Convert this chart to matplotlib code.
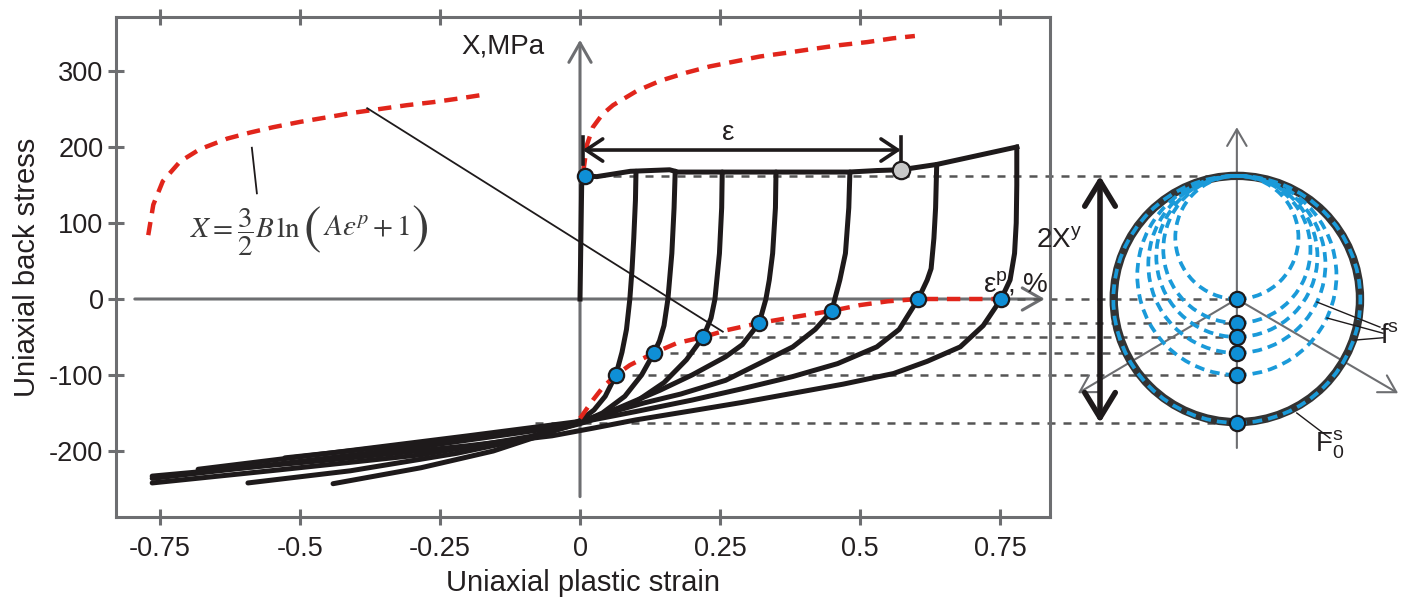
import matplotlib.pyplot as plt
from matplotlib.patches import Ellipse

plt.rcParams['font.family'] = ['Liberation Sans', 'DejaVu Sans']
plt.rcParams['mathtext.fontset'] = 'custom'
plt.rcParams['mathtext.rm'] = 'Liberation Sans'
plt.rcParams['mathtext.it'] = 'Liberation Sans:italic'

# axis ticks
xticks = [-0.75, -0.5, -0.25, 0, 0.25, 0.5, 0.75]
xticklabels = ['-0.75', '-0.5', '-0.25', '0', '0.25', '0.5', '0.75']
yticks = [-200, -100, 0, 100, 200, 300]
yticklabels = ['-200', '-100', '0', '100', '200', '300']

# loading path (upper envelope) - plastic strain %, back stress MPa
env_x = [0.0, 0.003, 0.009, 0.03, 0.09, 0.16, 0.175, 0.26, 0.38, 0.48, 0.53, 0.573, 0.637, 0.78]
env_y = [0, 150, 162, 161, 168, 170, 167, 167, 167, 167, 169, 170, 177, 200]

# unloading branches (top of branch -> dot -> tail)
b1_x = [0.100, 0.099, 0.096, 0.093, 0.089, 0.083, 0.075, 0.064, 0.045, 0.025, 0.0, -0.06, -0.155, -0.284, -0.441]
b1_y = [168, 130, 80, 40, 0, -40, -70, -100, -128, -146, -160, -177, -200, -222, -243]
b2_x = [0.170, 0.168, 0.164, 0.157, 0.150, 0.142, 0.132, 0.11, 0.08, 0.04, 0.0, -0.09, -0.22, -0.41, -0.593]
b2_y = [168, 120, 60, 0, -35, -55, -71, -100, -128, -150, -163, -183, -203, -226, -242]
b3_x = [0.254, 0.253, 0.249, 0.241, 0.234, 0.22, 0.19, 0.15, 0.10, 0.05, 0.0, -0.09, -0.284, -0.54, -0.764]
b3_y = [167, 120, 60, 0, -25, -50, -80, -110, -135, -152, -164, -181, -205, -225, -242]
b4_x = [0.350, 0.349, 0.344, 0.338, 0.332, 0.32, 0.29, 0.26, 0.20, 0.143, 0.07, 0.0, -0.2, -0.4, -0.527]
b4_y = [167, 120, 60, 25, 0, -31.6, -60, -76, -100, -120, -143, -163, -183, -199, -209]
b5_x = [0.482, 0.48, 0.474, 0.464, 0.455, 0.45, 0.42, 0.38, 0.32, 0.26, 0.18, 0.113, 0.05, 0.0, -0.2, -0.45, -0.682]
b5_y = [167, 120, 60, 25, 0, -15.5, -40, -63, -85, -107, -125, -137, -150, -161, -180, -203, -224]
b6_x = [0.637, 0.635, 0.632, 0.627, 0.620, 0.604, 0.57, 0.53, 0.46, 0.38, 0.29, 0.2, 0.1, 0.023, -0.05, -0.3, -0.55, -0.764]
b6_y = [177, 120, 80, 40, 25, 0, -40, -63, -85, -102, -118, -133, -148, -159, -170, -196, -218, -236]
b7_x = [0.780, 0.780, 0.779, 0.776, 0.768, 0.752, 0.72, 0.679, 0.62, 0.56, 0.47, 0.38, 0.29, 0.2, 0.1, 0.023, -0.05, -0.2, -0.45, -0.764]
b7_y = [200, 150, 100, 60, 25, 0, -35, -63, -82, -98, -112, -124, -136, -147, -159, -170, -180, -193, -212, -233]
branches = [(b1_x, b1_y), (b2_x, b2_y), (b3_x, b3_y), (b4_x, b4_y), (b5_x, b5_y), (b6_x, b6_y), (b7_x, b7_y)]

# red dashed curves (back stress law)
rr_x = [0.006, 0.0125, 0.023, 0.04, 0.059, 0.102, 0.143, 0.191, 0.232, 0.28, 0.321, 0.37, 0.416, 0.464, 0.513, 0.559, 0.598]
rr_y = [168, 203, 226, 243, 255, 274, 287, 298, 306, 313, 319, 324, 329, 334, 338, 343, 346]
rl_x = [-0.771, -0.762, -0.745, -0.714, -0.679, -0.63, -0.589, -0.548, -0.5, -0.452, -0.405, -0.357, -0.309, -0.262, -0.214, -0.179]
rl_y = [84, 124, 155, 181, 197, 211, 219, 226, 233, 239, 245, 250, 255, 259, 264, 268]
rb_x = [0.0, 0.023, 0.041, 0.064, 0.089, 0.132, 0.173, 0.22, 0.262, 0.32, 0.38, 0.45, 0.5, 0.55, 0.604, 0.68, 0.752]
rb_y = [-157, -133, -116, -100, -87, -71, -58, -50, -41, -31.6, -24, -15.5, -8, -3, 0, 0, 0]

# points
dot_x = [0.064, 0.132, 0.22, 0.32, 0.45, 0.604, 0.752]
dot_y = [-100, -71, -50, -31.6, -15.5, 0, 0]
yield_pt = (0.009, 162)
end_pt = (0.573, 170)

# yield surface levels (bottom of each surface) and dashed guide start
Xy = 162
surf_levels = [0, -31.6, -50, -71, -100, -163]
guide_levels = [162, 0, -31.6, -50, -71, -100, -163]
guide_start = [0.03, 0.752, 0.32, 0.22, 0.132, 0.064, -0.08]
circ_x = 1.173

GRAY = '#6d6e71'
BLACK = '#1e1a1b'
RED = '#e1251b'
BLUE = '#0f8fd6'
TXT = '#231f20'

fig = plt.figure(figsize=(14.02, 5.97), dpi=100)
ax = fig.add_axes([116 / 1402, 80 / 597, 934 / 1402, 500 / 597])
ax.set_xlim(-0.8286, 0.8393)
ax.set_ylim(-286.8, 371)

for s in ax.spines.values():
    s.set_color(GRAY)
    s.set_linewidth(2.2)
ax.set_xticks(xticks)
ax.set_xticklabels(xticklabels)
ax.set_yticks(yticks)
ax.set_yticklabels(yticklabels)
ax.tick_params(direction='inout', length=12, width=2.2, color=GRAY, labelsize=19.5,
               labelcolor=TXT, top=True, right=False)
ax.tick_params(axis='x', pad=8)
ax.tick_params(axis='y', pad=3)
ax.set_xlabel('Uniaxial plastic strain', fontsize=21, color=TXT, labelpad=5)
ax.set_ylabel('Uniaxial back stress', fontsize=21, color=TXT, labelpad=6)

# inner axes with arrows
ax.annotate('', xy=(0.83, 0), xytext=(-0.795, 0),
            arrowprops=dict(arrowstyle='->,head_length=0.7,head_width=0.4', color=GRAY, lw=2.2,
                            mutation_scale=20, shrinkA=0, shrinkB=0), zorder=1)
ax.annotate('', xy=(0, 341), xytext=(0, -260),
            arrowprops=dict(arrowstyle='->,head_length=0.7,head_width=0.4', color=GRAY, lw=2.2,
                            mutation_scale=20, shrinkA=0, shrinkB=0), zorder=1)
ax.text(-0.211, 332, 'X,MPa', fontsize=20, color=TXT, va='center', ha='left')
ax.text(0.72, 20, 'ε$^{\\mathrm{p}}$, %', fontsize=20, color=TXT, va='center', ha='left')

# dashed guides to the yield surface
for lev, x0 in zip(guide_levels, guide_start):
    ax.plot([x0, circ_x], [lev, lev], color='#555555', lw=1.8, dashes=(3.2, 3.2),
            clip_on=False, zorder=2)

# black loops
ax.plot(env_x, env_y, color=BLACK, lw=3.6, solid_joinstyle='round', zorder=3)
for bx, by in branches:
    ax.plot(bx, by, color=BLACK, lw=3.6, solid_capstyle='round', zorder=3)

# red dashed curves
for cx, cy in [(rr_x, rr_y), (rl_x, rl_y), (rb_x, rb_y)]:
    ax.plot(cx, cy, color=RED, lw=3.2, dashes=(3, 2), zorder=4)

ax.plot(dot_x, dot_y, 'o', ms=11, mfc=BLUE, mec=BLACK, mew=1.6, zorder=6)
ax.plot(*yield_pt, 'o', ms=11, mfc=BLUE, mec=BLACK, mew=1.6, zorder=6)
ax.plot(*end_pt, 'o', ms=12.5, mfc='#c8c8c8', mec=BLACK, mew=1.6, zorder=6)

# strain increment dimension
ax.annotate('', xy=(0.573, 196), xytext=(0.005, 196),
            arrowprops=dict(arrowstyle='<->,head_length=0.6,head_width=0.4', color=BLACK, lw=2.6,
                            mutation_scale=20, shrinkA=0, shrinkB=0), zorder=5)
ax.plot([0.005, 0.005], [178, 213], color=BLACK, lw=2.6, zorder=5)
ax.plot([0.573, 0.573], [178, 213], color=BLACK, lw=2.6, zorder=5)
ax.text(0.264, 218, 'ε', fontsize=20, color=TXT, ha='center', va='center')

# formula (pieces chained so the parentheses can be tall) and leader lines
FCOL = '#3a3a3a'
f1 = ax.text(-0.696, 88, r'$X=\dfrac{3}{2}B\,\ln$', fontsize=21, color=FCOL,
             ha='left', va='center', math_fontfamily='stix')
f2 = ax.annotate('(', xy=(1, 0.5), xycoords=f1, xytext=(2, 1), textcoords='offset points',
                 fontsize=38, color=FCOL, family='STIXGeneral', ha='left', va='center')
f3 = ax.annotate(r'$A\varepsilon^{p}+1$', xy=(1, 0.5), xycoords=f2, xytext=(1, 2),
                 textcoords='offset points', fontsize=21, color=FCOL, ha='left', va='center',
                 math_fontfamily='stix')
ax.annotate(')', xy=(1, 0.5), xycoords=f3, xytext=(1, -1), textcoords='offset points',
            fontsize=38, color=FCOL, family='STIXGeneral', ha='left', va='center')
ax.plot([-0.38, 0.255], [251, -43], color=BLACK, lw=1.3, zorder=5)
ax.plot([-0.586, -0.577], [199, 139], color=BLACK, lw=1.3, zorder=5)

# yield surface sketch (circle drawn in data units, scaled to look round)
p0 = ax.transData.transform((0, 0))
p1 = ax.transData.transform((1, 1))
k = (p1[1] - p0[1]) / (p1[0] - p0[0])

ax.annotate('', xy=(circ_x, 226), xytext=(circ_x, -196),
            arrowprops=dict(arrowstyle='->,head_length=0.6,head_width=0.35', color=GRAY, lw=1.5,
                            mutation_scale=20, shrinkA=0, shrinkB=0), annotation_clip=False)
for tip in [0.889, 1.461]:
    ax.annotate('', xy=(tip, -124), xytext=(circ_x, 0),
                arrowprops=dict(arrowstyle='->,head_length=0.6,head_width=0.35', color=GRAY, lw=1.5,
                                mutation_scale=20, shrinkA=0, shrinkB=0), annotation_clip=False)

ax.add_patch(Ellipse((circ_x, 0), 2 * Xy * k, 2 * Xy, fill=False, ec='#333333', lw=6,
                     clip_on=False, zorder=3))
for b in surf_levels:
    r = (Xy - b) / 2
    ax.add_patch(Ellipse((circ_x, (Xy + b) / 2), 2 * r * k, 2 * r, fill=False, ec='#1a9ad9',
                         lw=2.7, ls=(0, (2.6, 1.6)), clip_on=False, zorder=4))
ax.plot([circ_x] * len(surf_levels), surf_levels, 'o', ms=11, mfc=BLUE, mec=BLACK, mew=1.6,
        clip_on=False, zorder=6)

ax.annotate('', xy=(0.9286, Xy), xytext=(0.9286, -163),
            arrowprops=dict(arrowstyle='<->,head_length=0.9,head_width=0.55', color=BLACK, lw=4,
                            mutation_scale=20, shrinkA=0, shrinkB=0), annotation_clip=False)
ax.text(0.815, 78, '2X$^{\\mathrm{y}}$', fontsize=20, color=TXT, ha='left', va='center')

ax.text(1.4286, -49, 'f$^{\\mathrm{s}}$', fontsize=20, color=TXT, ha='left', va='center')
for sx, sy, ex, ey in [(1.316, -4, 1.4286, -37), (1.334, -25, 1.434, -45), (1.384, -54, 1.434, -51)]:
    ax.plot([sx, ex], [sy, ey], color=BLACK, lw=1.0, clip_on=False, zorder=5)
ax.text(1.3125, -192, 'F$_{\\mathrm{0}}^{\\mathrm{s}}$', fontsize=20, color=TXT, ha='left', va='center')
ax.plot([1.280, 1.339], [-150, -183], color=BLACK, lw=1.0, clip_on=False, zorder=5)

fig.savefig('out.png', dpi=100)
